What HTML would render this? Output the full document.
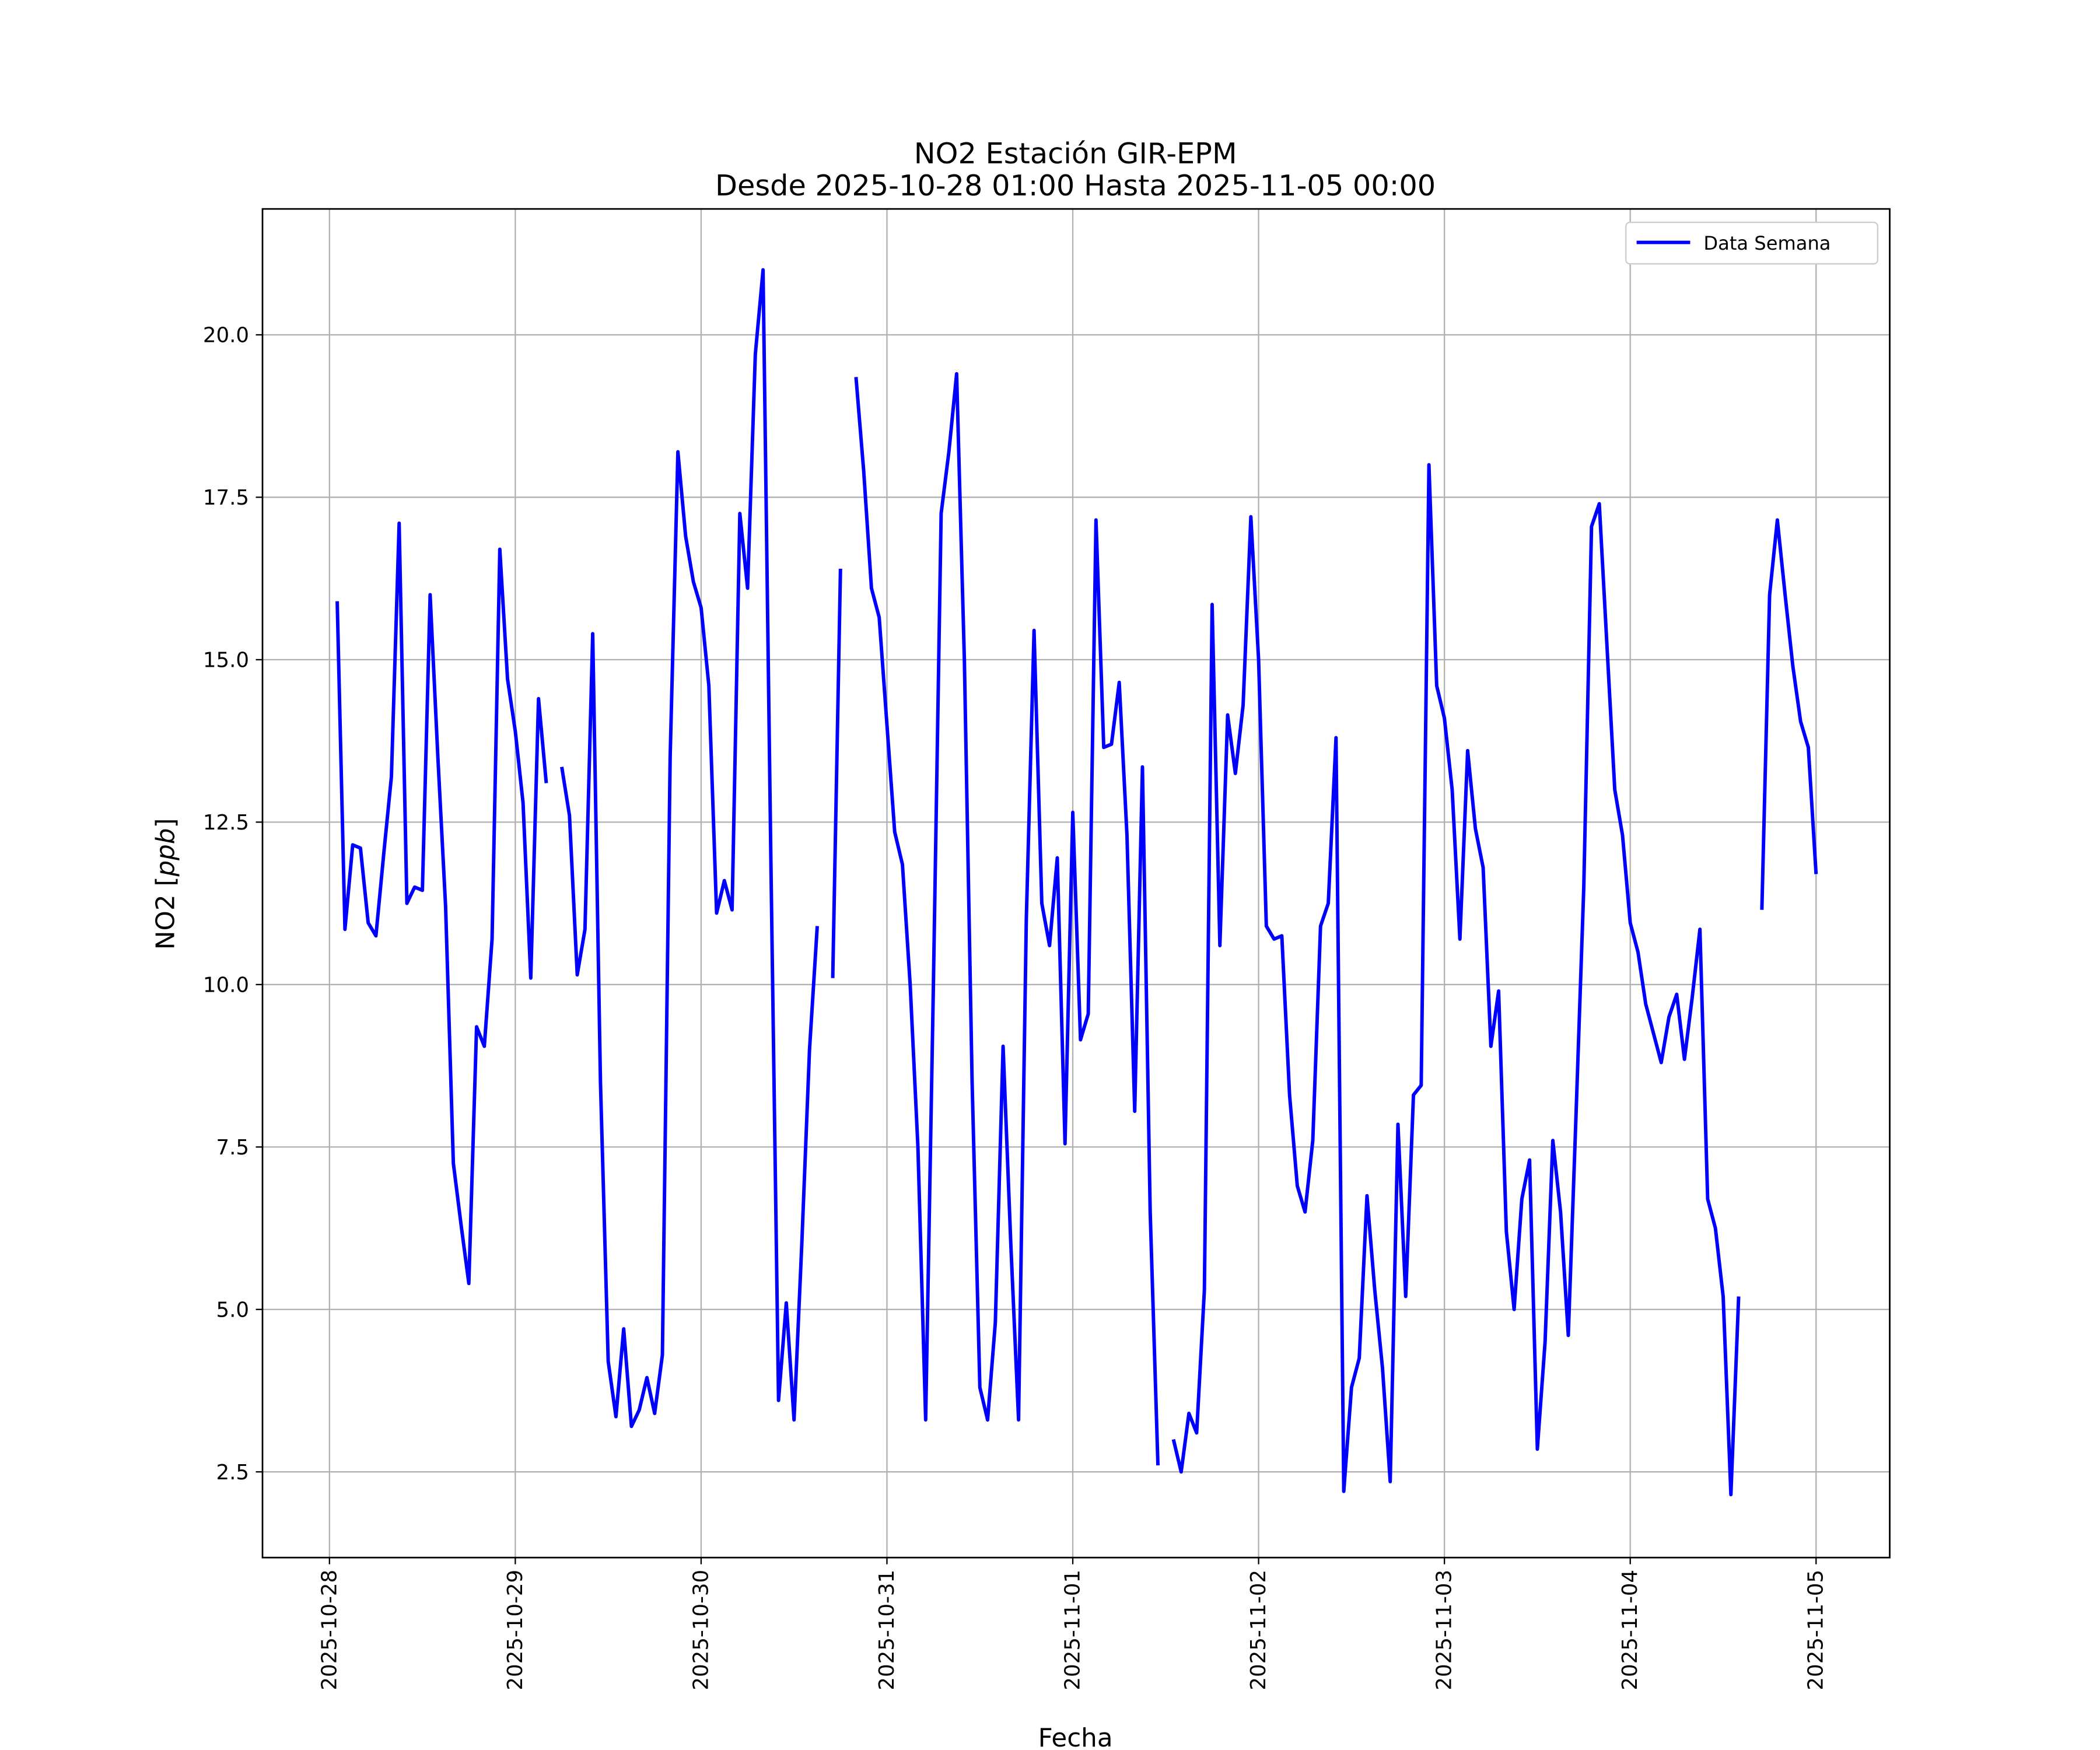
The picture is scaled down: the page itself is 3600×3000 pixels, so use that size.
<!DOCTYPE html>
<html><head><meta charset="utf-8">
<style>
html,body{margin:0;padding:0;background:#fff;}
svg{display:block;font-family:"DejaVu Sans","Liberation Sans",sans-serif;}
</style></head>
<body>
<svg id="chart" width="3600" height="3000" viewBox="0 0 1568 1306.67" xmlns="http://www.w3.org/2000/svg">
<rect x="0" y="0" width="1600" height="1320" fill="#fff"/>
<g id="grid"></g>
<g id="series"></g>
<rect x="196" y="156" width="1215" height="1007" fill="none" stroke="#000" stroke-width="1.2"/>
<g id="ticks"></g>
<text x="803" y="122" font-size="21.5" text-anchor="middle">NO2 Estación GIR-EPM</text>
<text x="803" y="146" font-size="21.5" text-anchor="middle">Desde 2025-10-28 01:00 Hasta 2025-11-05 00:00</text>
<text x="803" y="1312" font-size="19" text-anchor="middle" dy="-8">Fecha</text>
<text transform="translate(130,660) rotate(-90)" font-size="19" text-anchor="middle">NO2 [<tspan font-style="italic">ppb</tspan>]</text>
<g>
<rect x="1214" y="166" width="188" height="31" rx="3" fill="#fff" stroke="#ccc" stroke-width="1"/>
<line x1="1222" y1="181" x2="1262" y2="181" stroke="#0000ff" stroke-width="2.6"/>
<text x="1272" y="186.5" font-size="14">Data Semana</text>
</g>
</svg>
<script>
const dayLabels = ["2025-10-28","2025-10-29","2025-10-30","2025-10-31","2025-11-01","2025-11-02","2025-11-03","2025-11-04","2025-11-05"];
const yTicks = [2.5,5.0,7.5,10.0,12.5,15.0,17.5,20.0];
const no2Values = [
15.9,10.85,12.15,12.1,10.95,10.75,12.0,13.2,17.1,11.25,11.5,11.45,16.0,13.5,11.2,7.25,6.3,5.4,9.35,9.05,10.7,16.7,14.7,13.9,
12.8,10.1,14.4,13.1,null,13.35,12.6,10.15,10.85,15.4,8.5,4.2,3.35,4.7,3.2,3.45,3.95,3.4,4.3,13.5,18.2,16.9,16.2,15.8,
14.6,11.1,11.6,11.15,17.25,16.1,19.7,21.0,12,3.6,5.1,3.3,6.0,9.0,10.9,null,10.1,16.4,null,19.35,17.9,16.1,15.65,14.0,
12.35,11.85,10.0,7.5,3.3,10,17.25,18.2,19.4,15,8.5,3.8,3.3,4.8,9.05,6.0,3.3,11.0,15.45,11.25,10.6,11.95,7.55,12.65,
9.15,9.55,17.15,13.65,13.7,14.65,12.3,8.05,13.35,6.5,2.6,null,3.0,2.5,3.4,3.1,5.3,15.85,10.6,14.15,13.25,14.3,17.2,15.0,
10.9,10.7,10.75,8.3,6.9,6.5,7.6,10.9,11.25,13.8,2.2,3.8,4.25,6.75,5.3,4.1,2.35,7.85,5.2,8.3,8.45,18.0,14.6,14.1,
13.0,10.7,13.6,12.4,11.8,9.05,9.9,6.2,5.0,6.7,7.3,2.85,4.5,7.6,6.5,4.6,8.0,11.5,17.05,17.4,15.2,13.0,12.3,10.95,
10.5,9.7,9.25,8.8,9.5,9.85,8.85,9.8,10.85,6.7,6.25,5.2,2.15,5.2,null,null,11.15,16.0,17.15,16.0,14.9,14.05,13.65,11.7
];
const NS="http://www.w3.org/2000/svg";
const X0=246, DAY=138.75;
function xScale(hours){return X0+hours*DAY/24;}
function yScale(v){return 250+(20-v)*48.514;}
const grid=document.getElementById('grid'), ticks=document.getElementById('ticks'), series=document.getElementById('series');
function mk(tag,attrs,parent){const e=document.createElementNS(NS,tag);for(const k in attrs)e.setAttribute(k,attrs[k]);parent.appendChild(e);return e;}
dayLabels.forEach((d,i)=>{
  const x=xScale(i*24);
  const g=mk('line',{x1:x,x2:x,y1:156,y2:1163,stroke:'#b0b0b0','stroke-width':1},grid);
  
  
  mk('line',{x1:x,x2:x,y1:1163,y2:1168,stroke:'#000','stroke-width':1},ticks);
  const t=mk('text',{transform:`translate(${x+5},1172) rotate(-90)`,'font-size':15.5,'text-anchor':'end'},ticks);
  t.textContent=d;
  
  
});
yTicks.forEach(v=>{
  const y=yScale(v);
  const g=mk('line',{x1:196,x2:1411,y1:y,y2:y,stroke:'#b0b0b0','stroke-width':1},grid);
  
  
  mk('line',{x1:191,x2:196,y1:y,y2:y,stroke:'#000','stroke-width':1},ticks);
  const t=mk('text',{x:186,y:y+5.5,'font-size':15.5,'text-anchor':'end'},ticks);
  t.textContent=v.toFixed(1);
  
  
});
let d='', pen=false;
no2Values.forEach((v,i)=>{
  if(v===null){pen=false;return;}
  const x=xScale(i+1), y=yScale(v);
  d+=(pen?'L':'M')+x.toFixed(2)+' '+y.toFixed(2)+' ';
  pen=true;
});
const p=mk('path',{d:d,fill:'none',stroke:'#0000ff','stroke-width':2.6,'stroke-linejoin':'round'},series);


</script>
</body></html>
